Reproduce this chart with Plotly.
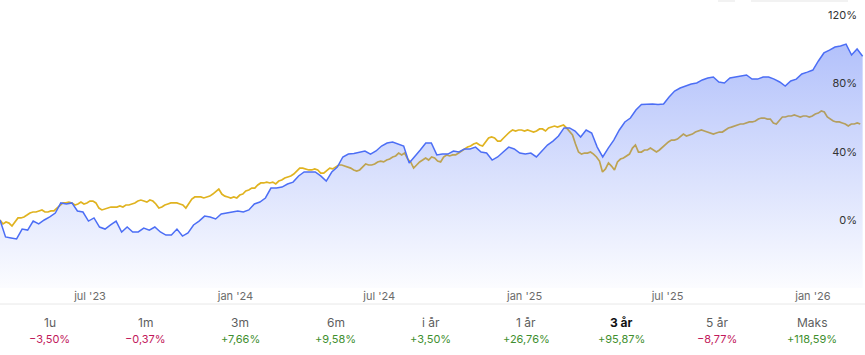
import pandas as pd
import plotly.graph_objects as go

# ---------------- data ----------------
START = "2023-03-09"
YELLOW_END = "2026-03-02"
X_END = "2026-03-08"

blue_values = [
    0, -9.9, -10.5, -11.1, -5.3, -5.9, -0.6, -2.3, 0.0, 1.8,
    4.1, 10.0, 9.4, 10.0, 5.3, 4.7, -0.6, 1.2, -4.1, -5.3,
    -2.9, -0.6, -7.0, -4.1, -7.0, -7.0, -4.7, -5.9, -4.1, -7.0,
    -8.8, -8.8, -5.3, -9.4, -7.6, -2.9, -0.6, 2.3, 1.8, 0.6,
    3.5, 4.1, 4.7, 5.3, 4.7, 5.9, 9.4, 10.5, 12.9, 18.7,
    18.7, 19.3, 21.1, 22.2, 25.8, 28.1, 28.1, 28.1, 25.8, 22.8,
    28.1, 31.0, 36.9, 38.6, 38.9, 39.8, 40.4, 38.6, 40.4, 43.3,
    45.1, 45.7, 44.5, 43.3, 33.4, 36.9, 41.0, 45.1, 45.1, 38.1,
    38.6, 38.6, 40.4, 39.8, 41.6, 41.6, 42.7, 39.8, 39.2, 35.1,
    36.9, 39.8, 42.7, 41.6, 39.2, 38.6, 39.2, 36.9, 40.4, 43.9,
    46.2, 49.2, 53.9, 53.9, 52.1, 48.6, 52.7, 50.9, 42.7, 36.9,
    42.1, 46.8, 52.7, 57.4, 59.7, 64.4, 67.6, 67.9, 67.9, 67.6,
    67.9, 72.0, 75.5, 77.3, 78.4, 79.6, 80.2, 82.0, 83.1, 83.7,
    80.8, 80.2, 83.1, 83.7, 84.3, 84.9, 82.5, 82.5, 83.7, 83.7,
    82.5, 80.8, 78.4, 81.4, 82.5, 85.5, 86.6, 87.8, 93.1, 97.8,
    99.5, 101.3, 101.9, 103.0, 96.6, 100.1, 95.9,
]

yellow_values = [
    0.0, -2.3, -1.2, -1.8, -3.5, -1.2, 1.2, 1.2, 1.8, 2.9,
    4.1, 4.7, 4.7, 5.3, 5.9, 4.7, 4.7, 5.3, 5.3, 7.0,
    8.8, 10.0, 10.0, 10.5, 10.0, 8.8, 9.4, 10.5, 9.4, 10.0,
    11.1, 11.1, 10.0, 7.0, 5.9, 6.4, 7.0, 7.6, 7.6, 7.6,
    8.2, 7.6, 8.8, 8.8, 9.4, 10.0, 11.1, 11.7, 11.1, 10.5,
    11.7, 11.1, 9.4, 7.0, 7.6, 8.8, 9.4, 10.0, 10.0, 10.0,
    9.4, 8.8, 7.0, 10.0, 12.3, 13.5, 13.5, 13.5, 12.9, 13.5,
    14.0, 15.2, 16.4, 18.1, 15.2, 14.0, 13.5, 12.9, 13.5, 12.9,
    14.6, 15.2, 17.0, 17.6, 18.7, 18.7, 20.5, 21.7, 21.7, 22.2,
    21.7, 22.2, 21.1, 22.8, 23.4, 24.6, 25.2, 25.8, 26.9, 28.7,
    30.4, 30.4, 29.9, 29.3, 29.3, 29.9, 29.3, 27.5, 27.5, 28.7,
    30.4, 29.9, 31.0, 32.2, 32.2, 31.6, 31.0, 30.4, 29.3, 28.7,
    29.3, 31.0, 32.8, 32.2, 32.2, 32.8, 34.0, 34.5, 34.0, 35.1,
    35.7, 36.9, 37.5, 39.2, 38.1, 39.2, 35.7, 34.0, 30.4, 32.2,
    34.0, 35.1, 36.3, 35.1, 36.9, 36.3, 34.5, 34.0, 36.9, 38.1,
    37.5, 38.1, 38.1, 39.2, 40.4, 41.6, 42.7, 43.3, 44.5, 45.1,
    43.9, 43.3, 45.7, 48.0, 48.6, 48.0, 46.2, 46.2, 48.0, 49.8,
    51.5, 52.7, 52.1, 52.7, 52.7, 52.1, 52.7, 52.1, 51.5, 52.1,
    53.3, 53.3, 52.1, 53.9, 54.4, 55.0, 54.4, 55.0, 55.6, 53.9,
    52.1, 49.8, 44.5, 39.8, 38.6, 39.2, 39.2, 39.8, 38.6, 36.9,
    34.5, 28.1, 29.9, 33.4, 31.6, 29.3, 34.0, 35.7, 36.3, 37.5,
    38.6, 42.1, 43.9, 39.8, 39.8, 41.0, 41.0, 42.1, 41.0, 39.8,
    41.0, 42.7, 43.9, 45.7, 46.8, 46.8, 47.4, 48.6, 50.3, 49.2,
    49.8, 50.3, 51.5, 52.1, 52.7, 52.1, 51.5, 50.9, 50.3, 50.9,
    51.5, 51.5, 52.7, 53.9, 54.4, 55.0, 55.6, 56.2, 56.2, 56.8,
    57.4, 57.4, 58.0, 59.1, 59.7, 59.7, 59.1, 59.1, 56.8, 56.2,
    58.0, 60.3, 60.3, 60.9, 60.9, 61.5, 60.9, 60.3, 60.9, 60.9,
    60.3, 60.9, 62.1, 62.6, 63.8, 63.2, 60.3, 59.1, 58.0, 57.4,
    57.4, 56.8, 56.2, 55.0, 56.2, 56.2, 56.8, 56.2,
]

tick_dates = ["2023-07-01", "2024-01-01", "2024-07-01", "2025-01-01", "2025-07-01", "2026-01-01"]
tick_labels = ["jul '23", "jan '24", "jul '24", "jan '25", "jul '25", "jan '26"]
y_ticks = [0, 40, 80, 120]
y_tick_labels = ["0%", "40%", "80%", "120%"]

periods = ["1u", "1m", "3m", "6m", "i år", "1 år", "3 år", "5 år", "Maks"]
returns = ["\u22123,50%", "\u22120,37%", "+7,66%", "+9,58%", "+3,50%",
           "+26,76%", "+95,87%", "\u22128,77%", "+118,59%"]
selected_period = "3 år"

# ---------------- layout constants ----------------
W, H = 865, 355
PLOT_H = 288
Y_MIN, Y_MAX = -39.8, 128.8

BLUE = "#4c6ef5"
YELLOW = "#e0b320"
NEG = "#c2185b"
POS = "#3f8f2f"
FONT = "Inter, Roboto, sans-serif"

blue_dates = pd.date_range(START, periods=len(blue_values), freq="7D")
yellow_dates = pd.date_range(START, YELLOW_END, periods=len(yellow_values))

fig = go.Figure()

# benchmark (drawn first so that the blue fill lies over it)
fig.add_trace(go.Scatter(
    x=yellow_dates, y=yellow_values, mode="lines",
    line=dict(color=YELLOW, width=1.7), hoverinfo="skip", showlegend=False,
))
# invisible baseline at the bottom of the axis
fig.add_trace(go.Scatter(
    x=[blue_dates[0], blue_dates[-1]], y=[Y_MIN, Y_MIN], mode="lines",
    line=dict(width=0, color="rgba(0,0,0,0)"), hoverinfo="skip", showlegend=False,
))
fig.add_trace(go.Scatter(
    x=blue_dates, y=blue_values, mode="lines",
    line=dict(color=BLUE, width=1.5),
    fill="tonexty",
    fillgradient=dict(
        type="vertical",
        colorscale=[[0, "rgba(76,110,245,0.02)"], [1, "rgba(76,110,245,0.43)"]],
        start=Y_MIN, stop=104,
    ),
    hoverinfo="skip", showlegend=False,
))

fig.update_layout(
    width=W, height=H,
    margin=dict(l=0, r=0, t=0, b=H - PLOT_H),
    paper_bgcolor="white", plot_bgcolor="white",
    font=dict(family=FONT),
    xaxis=dict(
        type="date", range=[START, X_END],
        tickvals=tick_dates, ticktext=tick_labels,
        showgrid=False, zeroline=False, showline=False, ticks="",
        tickfont=dict(size=11, color="#6b6b6b", family=FONT),
        fixedrange=True,
    ),
    yaxis=dict(
        range=[Y_MIN, Y_MAX], side="right", ticklabelposition="inside",
        tickvals=y_ticks, ticktext=y_tick_labels,
        showgrid=False, zeroline=False, showline=False, ticks="",
        tickfont=dict(size=11, color="#333333", family=FONT),
        ticklabelstandoff=5,
        fixedrange=True,
    ),
)


def py(ypix):
    return (PLOT_H - ypix) / PLOT_H


def px(xpix):
    return xpix / W


shapes = []
# partial controls at the very top edge
shapes.append(dict(type="rect", xref="paper", yref="paper",
                   x0=px(718), x1=px(735), y0=py(2), y1=py(0),
                   fillcolor="#f2f2f2", line=dict(width=0), layer="below"))
shapes.append(dict(type="rect", xref="paper", yref="paper",
                   x0=px(751), x1=px(848), y0=py(2), y1=py(0),
                   fillcolor="#f2f2f2", line=dict(width=0), layer="below"))
# separator line
shapes.append(dict(type="line", xref="paper", yref="paper",
                   x0=0, x1=1, y0=py(304), y1=py(304),
                   line=dict(color="#e8e8e8", width=1)))

col_w = 95.3
first_c = 49.7
annotations = []
for i, (p, r) in enumerate(zip(periods, returns)):
    cx = first_c + i * col_w
    sel = p == selected_period
    if sel:
        x0, x1 = cx - 44.5, cx + 44.5
        y0, y1 = py(349), py(311)
        rx = 8 / W
        ry = 8 / PLOT_H
        path = (f"M {x0+rx},{y1} L {x1-rx},{y1} Q {x1},{y1} {x1},{y1-ry} "
                f"L {x1},{y0+ry} Q {x1},{y0} {x1-rx},{y0} L {x0+rx},{y0} "
                f"Q {x0},{y0} {x0},{y0+ry} L {x0},{y1-ry} Q {x0},{y1} {x0+rx},{y1} Z")
        shapes.append(dict(type="path", xref="paper", yref="paper", path=path,
                           fillcolor="#f2f2f2", line=dict(width=0), layer="below"))
    annotations.append(dict(
        x=px(cx), y=py(322), xref="paper", yref="paper", showarrow=False,
        text=f"<b>{p}</b>" if sel else p,
        font=dict(size=12, color="#111111" if sel else "#5e5e5e", family=FONT),
        xanchor="center", yanchor="middle",
    ))
    annotations.append(dict(
        x=px(cx), y=py(339), xref="paper", yref="paper", showarrow=False,
        text=r,
        font=dict(size=11, color=NEG if r.startswith("\u2212") else POS, family=FONT),
        xanchor="center", yanchor="middle",
    ))

fig.update_layout(shapes=shapes, annotations=annotations)

fig.write_html("out.html", config={"displayModeBar": False})
